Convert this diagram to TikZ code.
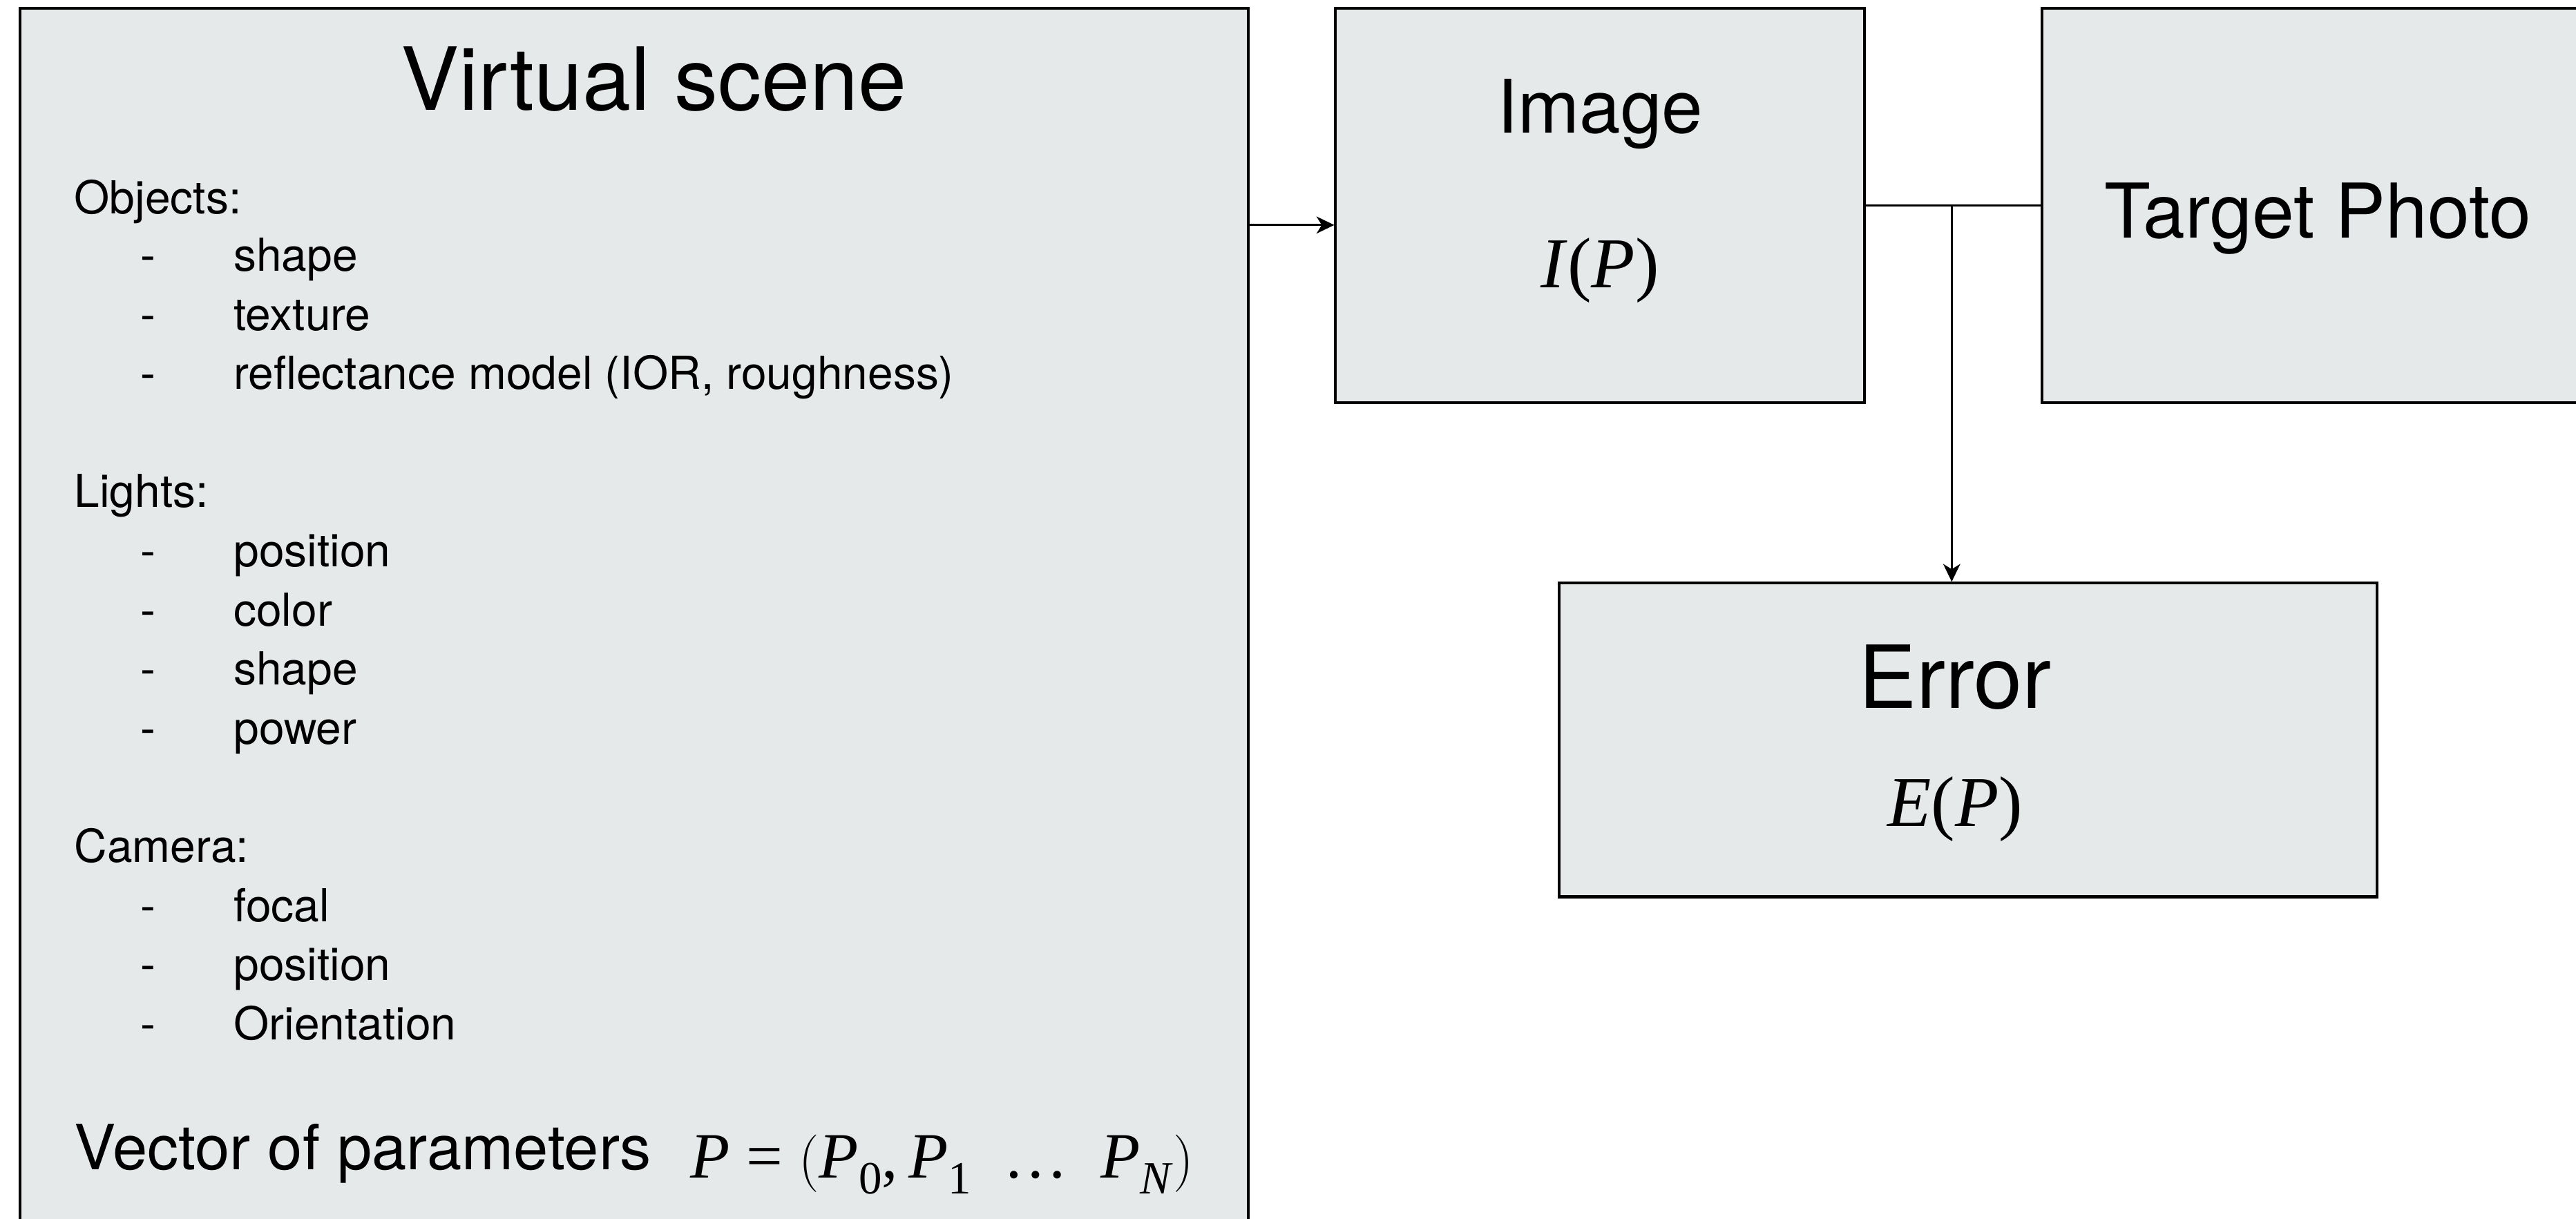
\documentclass[tikz,border=0pt]{standalone}
\usepackage{fontspec}
\setmainfont{TeX Gyre Heros}
\newfontfamily\mathser{Liberation Serif}
\usetikzlibrary{arrows.meta}
\definecolor{boxfill}{RGB}{230,233,234}
\tikzset{
  box/.style={draw=black, line width=1.2pt, fill=boxfill, inner sep=0pt, rectangle},
  conn/.style={line width=0.9pt},
  arr/.style={line width=0.9pt, -{Stealth[length=0.27cm, width=0.26cm, inset=0.08cm]}},
  item/.style={anchor=base west, inner sep=0pt, font=\fontsize{19.7}{24}\selectfont},
  dashitem/.style={anchor=base, inner sep=0pt, font=\fontsize{19.7}{24}\selectfont},
}
\begin{document}
\begin{tikzpicture}[x=0.025cm, y=-0.025cm]
\useasboundingbox (0,0) rectangle (1568,742);
\fill[white] (0,0) rectangle (1568,742);
% boxes
\node[box, minimum width=748*0.025cm, minimum height=770*0.025cm] (vs) at (386,390) {};
\node[box, minimum width=322*0.025cm, minimum height=240*0.025cm] (img) at (974,125) {};
\node[box, minimum width=360*0.025cm, minimum height=240*0.025cm] (tp) at (1423,125) {};
\node[box, minimum width=498*0.025cm, minimum height=191*0.025cm] (err) at (1198,450.5) {};
% titles
\node[anchor=base, inner sep=0pt, font=\fontsize{37.7}{44}\selectfont] (vst) at (398,67) {Virtual scene};
\node[anchor=base, inner sep=0pt, font=\fontsize{32}{38}\selectfont] (imt) at (974,81) {Image};
\node[anchor=base, inner sep=0pt, font=\mathser\fontsize{31}{36}\selectfont] (imm) at (974,175) {\textit{I}(\textit{P})};
\node[anchor=base, inner sep=0pt, font=\fontsize{32.7}{38}\selectfont] (tpt) at (1411,145) {Target Photo};
\node[anchor=base, inner sep=0pt, font=\fontsize{37.7}{44}\selectfont] (ert) at (1190,431) {Error};
\node[anchor=base, inner sep=0pt, font=\mathser\fontsize{31}{36}\selectfont] (erm) at (1190,503) {\textit{E}(\textit{P})};
% list
\node[item] (o) at (45,130) {Objects:};
\node[dashitem] (d1) at (90,165) {-}; \node[item] (t1) at (142,165) {shape};
\node[dashitem] (d2) at (90,201) {-}; \node[item] (t2) at (142,201) {texture};
\node[dashitem] (d3) at (90,237) {-}; \node[item] (t3) at (142,237) {reflectance model (IOR, roughness)};
\node[item] (l) at (45,309) {Lights:};
\node[dashitem] (d4) at (90,345) {-}; \node[item] (t4) at (142,345) {position};
\node[dashitem] (d5) at (90,381) {-}; \node[item] (t5) at (142,381) {color};
\node[dashitem] (d6) at (90,417) {-}; \node[item] (t6) at (142,417) {shape};
\node[dashitem] (d7) at (90,453) {-}; \node[item] (t7) at (142,453) {power};
\node[item] (c) at (45,525) {Camera:};
\node[dashitem] (d8) at (90,561) {-}; \node[item] (t8) at (142,561) {focal};
\node[dashitem] (d9) at (90,597) {-}; \node[item] (t9) at (142,597) {position};
\node[dashitem] (d10) at (90,633) {-}; \node[item] (t10) at (142,633) {Orientation};
\node[anchor=base west, inner sep=0pt, font=\fontsize{27}{32}\selectfont] (vec) at (45,712) {Vector of parameters};
\node[anchor=base west, inner sep=0pt, font=\mathser\fontsize{28}{34}\selectfont] (vecm) at (420,717)
  {\textit{P} = $\Big($\textit{P}\raisebox{-0.25em}{\fontsize{20}{24}\selectfont 0},\,\textit{P}\raisebox{-0.25em}{\fontsize{20}{24}\selectfont 1}\ \ \ldots\ \ \textit{P}\raisebox{-0.25em}{\fontsize{20}{24}\selectfont\textit{N}}$\Big)$};
% connectors
\coordinate (a1) at (0,137);
\draw[arr] (vs.east |- a1) -- (img.west |- a1);
\draw[conn] (img.east) -- (tp.west);
\coordinate (j) at (1188,125);
\draw[arr] (j) -- (j |- err.north);
\end{tikzpicture}
\end{document}
